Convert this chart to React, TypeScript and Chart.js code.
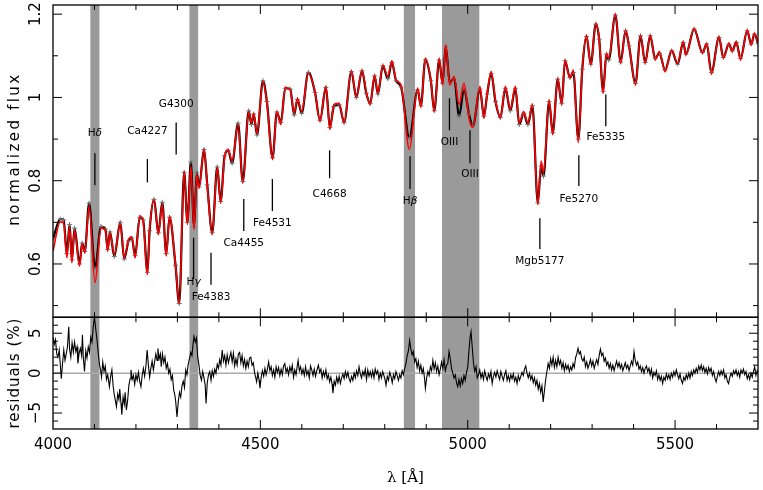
import React, { useEffect, useRef } from 'react';
import { Chart, registerables } from 'chart.js';
Chart.register(...registerables);

// Wavelength nodes (Å) of the spectrum (read at the extrema of the curves)
const lambdaNodes = [
  4000, 4017.5, 4025.6, 4033.5, 4040, 4045.5, 4052, 4064, 4070.2, 4076.7,
  4087, 4101.3, 4115.7, 4126.3, 4131.8, 4137.3, 4147.8, 4162.2, 4171.8, 4182,
  4190, 4198, 4209.2, 4217.3, 4227.6, 4233, 4243.6, 4254, 4263.5, 4273,
  4281, 4295.4, 4304.3, 4316.3, 4324.2, 4332.3, 4340.2, 4346.7, 4352.2, 4364.2,
  4372, 4384, 4396, 4404.2, 4413.8, 4422.4, 4432, 4446.3, 4457.6, 4472,
  4478.4, 4484, 4491.9, 4506.2, 4515.8, 4529.5, 4539.8, 4549.4, 4560, 4572,
  4581.5, 4589.4, 4599.7, 4615.7, 4631.8, 4643.8, 4658.1, 4667.7, 4677.3, 4690,
  4702, 4719.5, 4731.4, 4745.1, 4755.4, 4765, 4775.5, 4783.4, 4795.4, 4807.4,
  4817, 4827.3, 4839.3, 4859.4, 4879.3, 4887.2, 4897.7, 4911.1, 4919.3, 4931.3,
  4939.2, 4947.1, 4956.6, 4967.2, 4979.2, 4991.1, 5003.1, 5012.7, 5029.5, 5039,
  5047, 5056.6, 5066.9, 5078.8, 5090.8, 5102.8, 5114.8, 5124.4, 5134.9, 5145.2,
  5156, 5169.1, 5177, 5182.8, 5196.2, 5205.1, 5217.1, 5226.7, 5234.6, 5246.5,
  5254.7, 5266.7, 5276.3, 5286.5, 5296.8, 5308.8, 5317, 5326.5, 5334.5, 5340,
  5356, 5368.7, 5380.7, 5388.9, 5404.7, 5416.7, 5428, 5440, 5452, 5462.2,
  5475.9, 5491.9, 5506.3, 5519.7, 5526.1, 5546, 5566.1, 5576.4, 5587.7, 5605.9,
  5616.4, 5629.8, 5638, 5647.6, 5657.9, 5674, 5683.5, 5691.4, 5700,
];

// Best-fit model (red)
const modelFlux = [
  0.631, 0.701, 0.699, 0.615, 0.689, 0.603, 0.681, 0.595, 0.647, 0.627,
  0.739, 0.555, 0.686, 0.681, 0.631, 0.675, 0.623, 0.697, 0.615, 0.659,
  0.665, 0.615, 0.715, 0.703, 0.575, 0.683, 0.753, 0.671, 0.744, 0.619,
  0.715, 0.599, 0.505, 0.823, 0.695, 0.835, 0.683, 0.815, 0.783, 0.875,
  0.787, 0.671, 0.831, 0.747, 0.855, 0.875, 0.847, 0.935, 0.795, 0.966,
  0.938, 0.962, 0.914, 1.038, 0.986, 0.851, 0.966, 0.935, 1.024, 1.018,
  0.962, 0.998, 0.966, 1.058, 1.014, 0.943, 1.026, 0.923, 0.983, 0.986,
  0.938, 1.064, 1.002, 1.066, 1.014, 0.983, 1.054, 1.010, 1.078, 1.050,
  1.088, 1.042, 1.030, 0.875, 1.022, 0.978, 1.094, 1.042, 0.966, 1.094,
  1.030, 1.126, 1.030, 1.050, 0.983, 1.034, 0.950, 0.928, 1.026, 0.950,
  1.010, 1.062, 0.994, 0.950, 1.026, 0.971, 1.026, 0.938, 0.966, 0.938,
  0.984, 0.743, 0.847, 0.819, 0.994, 0.911, 1.046, 0.983, 1.090, 1.046,
  1.066, 0.891, 1.070, 1.150, 1.078, 1.178, 1.142, 1.010, 1.106, 1.094,
  1.200, 1.082, 1.162, 1.126, 1.030, 1.150, 1.082, 1.150, 1.090, 1.110,
  1.062, 1.114, 1.082, 1.134, 1.102, 1.166, 1.106, 1.130, 1.056, 1.146,
  1.094, 1.130, 1.110, 1.134, 1.090, 1.162, 1.126, 1.154, 1.130,
];

// Observed spectrum (black, with error bars)
const obsFlux = [
  0.660, 0.708, 0.706, 0.625, 0.695, 0.610, 0.686, 0.600, 0.650, 0.630,
  0.746, 0.590, 0.690, 0.684, 0.635, 0.677, 0.618, 0.700, 0.612, 0.655,
  0.662, 0.620, 0.712, 0.706, 0.580, 0.680, 0.755, 0.675, 0.748, 0.625,
  0.712, 0.597, 0.505, 0.820, 0.700, 0.845, 0.690, 0.820, 0.785, 0.875,
  0.790, 0.675, 0.833, 0.750, 0.860, 0.872, 0.842, 0.938, 0.798, 0.968,
  0.935, 0.960, 0.910, 1.040, 0.990, 0.855, 0.965, 0.940, 1.022, 1.020,
  0.958, 0.995, 0.962, 1.060, 1.012, 0.945, 1.024, 0.928, 0.978, 0.982,
  0.940, 1.062, 1.000, 1.064, 1.010, 0.985, 1.052, 1.008, 1.076, 1.045,
  1.084, 1.040, 1.025, 0.903, 1.018, 0.980, 1.090, 1.040, 0.968, 1.090,
  1.034, 1.122, 1.036, 1.046, 0.955, 1.020, 0.960, 0.932, 1.020, 0.955,
  1.008, 1.058, 0.990, 0.952, 1.022, 0.968, 1.022, 0.935, 0.962, 0.935,
  0.980, 0.747, 0.835, 0.811, 0.990, 0.915, 1.044, 0.985, 1.088, 1.048,
  1.060, 0.900, 1.068, 1.146, 1.080, 1.176, 1.140, 1.015, 1.104, 1.090,
  1.198, 1.085, 1.160, 1.124, 1.034, 1.148, 1.084, 1.148, 1.094, 1.106,
  1.066, 1.112, 1.080, 1.132, 1.104, 1.164, 1.108, 1.128, 1.060, 1.144,
  1.096, 1.128, 1.112, 1.132, 1.094, 1.160, 1.128, 1.152, 1.130,
];

// Residuals (%) : [wavelength, residual]
const residualPoints: [number, number][] = [
  [4000, 4.5], [4003, 3.6], [4006, 4.2], [4009, 2.4], [4012, 2.0], [4015, 2.9], [4018, 0.8], [4020, -0.7],
  [4023, 1.2], [4026, 2.9], [4029, 1.6], [4032, 2.4], [4035, 3.4], [4038, 5.8], [4040, 3.0], [4043, 2.0],
  [4046, 3.8], [4049, 2.6], [4052, 3.9], [4055, 2.7], [4058, 3.3], [4060, 1.2], [4063, 2.5], [4066, 3.1],
  [4069, 2.2], [4071, 4.8], [4073, 2.0], [4076, 0.2], [4079, 2.8], [4082, 1.9], [4085, 3.3], [4088, 2.6],
  [4091, 4.5], [4094, 3.9], [4097, 5.8], [4100, 7.0], [4103, 5.6], [4106, 4.2], [4109, 2.6], [4112, 1.1],
  [4115, 0.3], [4117, -0.5], [4120, 1.4], [4123, 0.2], [4126, 0.9], [4129, -0.8], [4132, -0.2], [4136, -1.7],
  [4139, -0.4], [4142, 0.4], [4145, -1.6], [4148, -2.8], [4151, -3.6], [4153, -4.2], [4156, -2.6], [4159, -3.3],
  [4161, -2.0], [4164, -3.8], [4166, -5.2], [4169, -3.0], [4172, -3.9], [4174, -2.4], [4177, -4.6], [4180, -3.4],
  [4183, -1.5], [4186, -0.7], [4188, 0.4], [4191, -0.8], [4194, -0.3], [4197, -1.4], [4200, -0.2], [4203, -0.9],
  [4206, 0.1], [4209, -1.0], [4212, -1.7], [4215, -0.3], [4218, 0.6], [4221, -0.4], [4224, 0.9], [4227, 2.9],
  [4230, 1.0], [4233, -0.5], [4236, 0.6], [4239, 1.5], [4242, 0.4], [4245, 1.4], [4248, 2.4], [4251, 1.6],
  [4253, 3.1], [4256, 1.8], [4259, 2.4], [4261, 0.8], [4264, 2.4], [4267, 1.3], [4270, 2.0], [4273, 0.6],
  [4276, 1.2], [4279, 0.0], [4282, 0.5], [4285, -0.8], [4288, -0.3], [4291, -2.1], [4294, -2.8], [4296, -3.6],
  [4299, -5.5], [4302, -3.6], [4305, -2.4], [4308, -3.0], [4311, -1.6], [4314, -1.0], [4317, -1.8], [4320, 0.4],
  [4323, -0.2], [4326, 1.1], [4329, 1.8], [4332, 2.6], [4335, 2.2], [4338, 3.8], [4340, 4.6], [4343, 3.9],
  [4346, 4.4], [4349, 2.0], [4352, 1.0], [4355, -0.3], [4358, -0.9], [4361, 0.2], [4364, -0.6], [4367, -1.5],
  [4369, -3.8], [4372, -1.2], [4375, -0.2], [4378, 0.2], [4381, -0.9], [4384, 0.3], [4387, -0.4], [4390, 0.5],
  [4393, 0.0], [4396, 1.1], [4399, 0.6], [4402, 1.7], [4405, 1.0], [4408, 2.9], [4411, 1.5], [4414, 2.2],
  [4417, 1.0], [4420, 2.3], [4423, 1.3], [4426, 2.0], [4429, 2.6], [4432, 1.4], [4435, 2.5], [4438, 0.9],
  [4441, 1.8], [4444, 1.0], [4447, 2.4], [4450, 2.6], [4453, 1.3], [4456, 2.2], [4459, 0.9], [4462, 1.7],
  [4465, 0.6], [4468, 1.5], [4471, 0.8], [4474, 1.9], [4477, 2.0], [4480, 1.0], [4483, 1.3], [4486, 0.1],
  [4489, -0.6], [4491, -1.1], [4494, 0.0], [4497, -0.9], [4499, -1.9], [4502, -0.5], [4505, 0.3], [4508, -0.4],
  [4511, 0.6], [4514, -0.2], [4517, 0.5], [4520, 1.4], [4523, 0.3], [4526, 0.8], [4529, -0.3], [4532, 0.4],
  [4535, -0.5], [4538, 0.8], [4541, 0.1], [4544, 0.7], [4547, -0.3], [4550, 0.5], [4553, -0.2], [4556, 0.9],
  [4559, 1.2], [4562, 0.1], [4565, 0.6], [4568, -0.2], [4571, 0.8], [4574, 0.2], [4577, 1.0], [4580, -0.5],
  [4583, 0.4], [4586, -0.2], [4589, 0.9], [4591, 1.6], [4594, 0.3], [4597, 0.8], [4600, -0.1], [4603, 0.5],
  [4606, -0.3], [4609, 0.8], [4612, -0.2], [4615, 0.3], [4618, -0.6], [4621, 0.9], [4624, 0.4], [4627, -0.3],
  [4630, 0.5], [4633, -0.4], [4636, 0.3], [4640, 1.0], [4643, 0.1], [4646, 0.5], [4649, -0.6], [4652, 0.2],
  [4655, -0.4], [4658, 0.4], [4661, -0.7], [4664, -0.2], [4667, -1.1], [4670, -0.5], [4673, -1.4], [4675, -2.5],
  [4678, -1.0], [4681, -1.5], [4684, -0.5], [4687, -1.2], [4690, -0.4], [4693, -1.3], [4696, -0.6], [4699, -0.1],
  [4702, -0.7], [4705, 0.2], [4708, -0.5], [4711, 0.1], [4714, -0.7], [4717, -1.1], [4720, -0.4], [4723, -0.9],
  [4726, 0.0], [4729, -0.6], [4732, 0.3], [4735, -0.3], [4738, 0.8], [4741, -0.1], [4744, -0.6], [4747, 0.2],
  [4750, -0.3], [4753, 0.5], [4756, -0.8], [4759, 0.4], [4762, -0.4], [4765, 0.2], [4768, -0.5], [4771, 0.3],
  [4774, -0.6], [4777, 0.5], [4780, -0.1], [4783, 0.3], [4786, -0.8], [4789, 0.0], [4792, -0.6], [4795, 0.2],
  [4798, -0.3], [4801, -0.9], [4803, -1.5], [4806, -0.4], [4809, -0.9], [4812, 0.1], [4815, -0.4], [4818, -1.2],
  [4821, -0.2], [4824, -0.7], [4827, 0.2], [4830, -0.3], [4833, -0.9], [4836, -0.2], [4839, -0.6], [4842, 0.3],
  [4845, -0.2], [4848, 0.6], [4851, 1.2], [4854, 2.2], [4857, 2.8], [4860, 4.1], [4863, 3.0], [4866, 2.3],
  [4869, 2.7], [4872, 1.4], [4875, 1.8], [4878, 0.7], [4881, 1.5], [4884, 0.3], [4887, 1.0], [4890, 0.0],
  [4893, 0.6], [4896, -0.7], [4898, -1.9], [4901, -0.6], [4904, 0.2], [4907, -0.3], [4910, 0.8], [4913, 0.3],
  [4916, 1.6], [4919, 0.5], [4922, 1.3], [4925, 0.2], [4928, 0.9], [4931, -0.2], [4934, 0.5], [4937, 1.4],
  [4940, 0.6], [4943, 1.7], [4946, 0.3], [4949, 1.0], [4952, 1.2], [4955, 2.7], [4958, 1.8], [4961, 0.6],
  [4964, 0.0], [4967, -0.6], [4970, -0.2], [4973, -1.2], [4976, -1.7], [4979, -0.8], [4982, -1.6], [4985, -0.7],
  [4988, -1.3], [4991, -0.3], [4994, -0.9], [4997, 0.1], [5000, 0.7], [5003, 2.8], [5006, 4.6], [5008, 5.2],
  [5011, 3.2], [5014, 1.2], [5017, 0.2], [5020, 0.8], [5023, -0.6], [5026, -0.2], [5029, 0.4], [5032, -0.6],
  [5035, 0.0], [5038, -0.8], [5041, 0.3], [5044, -0.4], [5047, -0.9], [5050, -0.1], [5053, -0.6], [5056, 0.2],
  [5059, -1.3], [5062, -0.4], [5065, 0.1], [5068, -0.5], [5071, 0.3], [5074, -0.3], [5077, -0.8], [5080, 0.2],
  [5083, -0.4], [5086, -0.9], [5089, -0.2], [5092, 0.3], [5095, -0.9], [5098, -0.3], [5101, -1.0], [5104, -0.2],
  [5107, -0.7], [5110, -0.1], [5113, -1.0], [5116, -0.5], [5119, -1.3], [5122, -0.3], [5125, -0.9], [5128, -0.4],
  [5131, 0.1], [5134, -0.3], [5137, 0.5], [5140, 0.9], [5143, 0.0], [5146, -0.6], [5149, 0.0], [5152, -0.8],
  [5155, -0.3], [5158, -1.2], [5161, -0.6], [5164, -1.5], [5167, -0.9], [5170, -2.0], [5173, -1.3], [5176, -2.4],
  [5179, -1.6], [5182, -3.6], [5185, -2.2], [5188, -0.8], [5191, 0.2], [5194, 1.2], [5197, 0.6], [5200, 1.8],
  [5203, 1.0], [5206, 2.0], [5209, 0.7], [5212, 1.6], [5215, 0.8], [5218, 2.0], [5221, 1.1], [5224, 1.6],
  [5227, 0.6], [5230, 1.3], [5233, 0.3], [5236, 1.1], [5239, 0.5], [5242, 1.0], [5245, 0.2], [5248, 0.8],
  [5251, 0.4], [5254, 1.2], [5257, 0.7], [5260, 1.9], [5263, 2.4], [5266, 3.1], [5269, 2.4], [5272, 2.7],
  [5275, 1.8], [5278, 1.5], [5281, 2.0], [5284, 0.8], [5287, 1.4], [5290, 0.6], [5293, 1.1], [5296, 1.7],
  [5299, 0.9], [5302, 1.5], [5305, 0.6], [5308, 1.2], [5311, 1.7], [5314, 1.1], [5317, 2.2], [5320, 3.0],
  [5323, 2.2], [5326, 2.5], [5329, 1.5], [5332, 1.9], [5335, 1.0], [5338, 1.4], [5341, 0.6], [5344, 1.2],
  [5347, 0.4], [5350, 1.0], [5353, 0.3], [5356, 0.9], [5359, 1.5], [5362, 0.8], [5365, 1.3], [5368, 0.6],
  [5371, 1.1], [5374, 0.3], [5377, 0.8], [5380, 1.3], [5383, 0.6], [5386, 1.0], [5389, 0.3], [5392, 0.9],
  [5395, 1.5], [5398, 1.0], [5401, 2.7], [5404, 1.6], [5407, 1.0], [5410, 1.4], [5413, 0.5], [5416, 0.9],
  [5419, 0.2], [5422, 0.7], [5425, 0.0], [5428, 0.6], [5431, 0.9], [5434, 0.2], [5437, 0.6], [5440, -0.2],
  [5443, 0.5], [5446, -0.6], [5449, 0.1], [5452, -0.3], [5455, 0.3], [5458, -0.8], [5461, -0.2], [5464, -0.9],
  [5467, -0.4], [5470, -1.3], [5473, -0.5], [5476, -0.9], [5479, -0.1], [5482, -0.7], [5485, -0.2], [5488, -0.8],
  [5491, 0.0], [5494, -0.5], [5497, 0.2], [5500, -0.3], [5503, 0.4], [5506, -0.2], [5509, -0.7], [5512, -0.1],
  [5515, -0.9], [5518, -1.3], [5521, -0.5], [5524, -0.9], [5527, -0.2], [5530, -0.7], [5533, 0.0], [5536, -0.6],
  [5539, 0.2], [5542, -0.3], [5545, 0.4], [5548, 0.0], [5551, 0.6], [5554, 0.1], [5557, 0.9], [5560, 0.4],
  [5563, 1.0], [5566, 0.3], [5569, 0.8], [5572, 0.1], [5575, 0.6], [5578, -0.1], [5581, 0.7], [5584, 0.2],
  [5587, 0.6], [5590, -0.3], [5593, 0.2], [5596, -0.6], [5599, -1.1], [5602, -0.4], [5605, 0.2], [5608, -0.3],
  [5611, 0.3], [5614, -0.2], [5617, 0.4], [5620, -0.6], [5623, -0.2], [5626, -1.0], [5629, -1.3], [5632, -0.5],
  [5635, 0.0], [5638, -0.4], [5641, 0.3], [5644, -0.1], [5647, 0.4], [5650, -0.3], [5653, 0.2], [5656, -0.5],
  [5659, 0.4], [5662, 0.0], [5665, 0.5], [5668, -0.2], [5671, 0.2], [5674, -0.7], [5677, -0.2], [5680, -0.8],
  [5683, 0.0], [5686, -0.5], [5689, 0.2], [5692, 0.8], [5695, -0.3], [5698, 0.3], [5700, 0.0],
];

// Masked regions (Å)
const bandStart = [4090, 4329, 4846, 4938];
const bandEnd = [4112, 4350, 4873, 5028];

// Line index markers
const lineNames = ['Hδ', 'Ca4227', 'G4300', 'Hγ', 'Fe4383', 'Ca4455', 'Fe4531', 'C4668', 'Hβ', 'OIII', 'OIII', 'Mgb5177', 'Fe5270', 'Fe5335'];
const lineLambda = [4101, 4227.6, 4297, 4339, 4381, 4460, 4529, 4667, 4861, 4956, 5005.5, 5174, 5268, 5333];
const lineTop = [0.866, 0.852, 0.940, 0.663, 0.627, 0.756, 0.804, 0.873, 0.859, 0.998, 0.921, 0.710, 0.861, 1.007];
const lineBottom = [0.789, 0.796, 0.863, 0.564, 0.550, 0.679, 0.727, 0.806, 0.780, 0.921, 0.842, 0.636, 0.787, 0.931];
const labelFlux = [0.914, 0.919, 0.983, 0.557, 0.521, 0.649, 0.697, 0.768, 0.751, 0.892, 0.816, 0.607, 0.756, 0.904];

// Axis tick labels
const xTickValues = [4000, 4500, 5000, 5500];
const xTickLabels = ['4000', '4500', '5000', '5500'];
const fluxTickValues = [0.6, 0.8, 1.0, 1.2];
const fluxTickLabels = ['0.6', '0.8', '1', '1.2'];
const resTickValues = [-5, 0, 5];
const resTickLabels = ['−5', '0', '5'];

const SANS = '"DejaVu Sans", sans-serif';

function drawLabel(ctx: CanvasRenderingContext2D, text: string, cx: number, cy: number) {
  const normal = `10.5px ${SANS}`;
  const italic = `italic 10.5px ${SANS}`;
  ctx.textBaseline = 'middle';
  if (text.length === 2 && text[0] === 'H') {
    ctx.font = normal;
    const w1 = ctx.measureText('H').width;
    ctx.font = italic;
    const w2 = ctx.measureText(text[1]).width;
    const x0 = cx - (w1 + w2) / 2;
    ctx.textAlign = 'left';
    ctx.font = normal;
    ctx.fillText('H', x0, cy);
    ctx.font = italic;
    ctx.fillText(text[1], x0 + w1, cy);
  } else {
    ctx.textAlign = 'center';
    ctx.font = normal;
    ctx.fillText(text, cx, cy);
  }
}

const panelPlugin = {
  id: 'panelPlugin',
  beforeDatasetsDraw(chart: any) {
    const { ctx, chartArea: ca, scales } = chart;
    const xs = scales.x;
    const yR = scales.yRes;
    ctx.save();
    ctx.fillStyle = '#9a9a9a';
    for (let i = 0; i < bandStart.length; i++) {
      const x1 = xs.getPixelForValue(bandStart[i]);
      const x2 = xs.getPixelForValue(bandEnd[i]);
      ctx.fillRect(x1, ca.top, x2 - x1, ca.bottom - ca.top);
    }
    ctx.strokeStyle = '#aaaaaa';
    ctx.lineWidth = 1.5;
    const y0 = yR.getPixelForValue(0);
    ctx.beginPath();
    ctx.moveTo(ca.left, y0);
    ctx.lineTo(ca.right, y0);
    ctx.stroke();
    ctx.restore();
  },
  afterDraw(chart: any) {
    const { ctx, chartArea: ca, scales } = chart;
    const xs = scales.x;
    const yF = scales.yFlux;
    const yR = scales.yRes;
    ctx.save();
    ctx.fillStyle = '#000';
    ctx.strokeStyle = '#000';

    // line index markers
    ctx.lineWidth = 1.3;
    for (let i = 0; i < lineNames.length; i++) {
      const px = xs.getPixelForValue(lineLambda[i]);
      ctx.beginPath();
      ctx.moveTo(px, yF.getPixelForValue(lineTop[i]));
      ctx.lineTo(px, yF.getPixelForValue(lineBottom[i]));
      ctx.stroke();
      drawLabel(ctx, lineNames[i], px, yF.getPixelForValue(labelFlux[i]));
    }

    // frames + ticks
    const panels = [
      { ax: yF, minor: [0.5, 0.6, 0.7, 0.8, 0.9, 1.0, 1.1, 1.2], major: fluxTickValues },
      { ax: yR, minor: [-6, -5, -4, -3, -2, -1, 0, 1, 2, 3, 4, 5, 6], major: resTickValues },
    ];
    for (const p of panels) {
      const top = p.ax.top;
      const bot = p.ax.bottom;
      ctx.lineWidth = 1;
      for (let v = 4100; v < 5700; v += 100) {
        const px = xs.getPixelForValue(v);
        const len = v % 500 === 0 ? 9 : 5;
        ctx.beginPath();
        ctx.moveTo(px, top);
        ctx.lineTo(px, top + len);
        ctx.moveTo(px, bot);
        ctx.lineTo(px, bot - len);
        ctx.stroke();
      }
      for (const v of p.minor) {
        const py = p.ax.getPixelForValue(v);
        const isMajor = p.major.some((m: number) => Math.abs(m - v) < 1e-6);
        const len = isMajor ? 9 : 5;
        ctx.beginPath();
        ctx.moveTo(ca.left, py);
        ctx.lineTo(ca.left + len, py);
        ctx.moveTo(ca.right, py);
        ctx.lineTo(ca.right - len, py);
        ctx.stroke();
      }
      ctx.lineWidth = 1.3;
      ctx.strokeRect(ca.left, top, ca.right - ca.left, bot - top);
    }

    // x tick labels
    ctx.font = `15px ${SANS}`;
    ctx.textAlign = 'center';
    ctx.textBaseline = 'middle';
    for (let i = 0; i < xTickValues.length; i++) {
      ctx.fillText(xTickLabels[i], xs.getPixelForValue(xTickValues[i]), ca.bottom + 16);
    }
    // y tick labels (rotated)
    const drawRot = (text: string, x: number, y: number) => {
      ctx.save();
      ctx.translate(x, y);
      ctx.rotate(-Math.PI / 2);
      ctx.fillText(text, 0, 0);
      ctx.restore();
    };
    for (let i = 0; i < fluxTickValues.length; i++) {
      drawRot(fluxTickLabels[i], 36, yF.getPixelForValue(fluxTickValues[i]));
    }
    for (let i = 0; i < resTickValues.length; i++) {
      drawRot(resTickLabels[i], 36, yR.getPixelForValue(resTickValues[i]));
    }

    // axis titles
    (ctx as any).letterSpacing = '2.5px';
    drawRot('normalized flux', 15, yF.top + 144);
    (ctx as any).letterSpacing = '1px';
    drawRot('residuals (%)', 15, (yR.top + yR.bottom) / 2);
    (ctx as any).letterSpacing = '0px';
    ctx.font = '15px "DejaVu Serif", serif';
    ctx.fillText('λ [Å]', (ca.left + ca.right) / 2, ca.bottom + 49);
    ctx.restore();
  },
};

export default function App() {
  const ref = useRef<HTMLCanvasElement>(null);
  useEffect(() => {
    document.body.style.margin = '0';
    const modelData = lambdaNodes.map((l, i) => ({ x: l, y: modelFlux[i] }));
    const obsData = lambdaNodes.map((l, i) => ({ x: l, y: obsFlux[i] }));
    const resData = residualPoints.map(([l, r]) => ({ x: l, y: r }));
    const chart = new Chart(ref.current as HTMLCanvasElement, {
      type: 'line',
      data: {
        datasets: [
          {
            label: 'model',
            data: modelData,
            yAxisID: 'yFlux',
            borderColor: '#ff0000',
            borderWidth: 1.6,
            pointRadius: 0,
            cubicInterpolationMode: 'monotone',
            order: 0,
          },
          {
            label: 'observed',
            data: obsData,
            yAxisID: 'yFlux',
            borderColor: '#000000',
            borderWidth: 2.2,
            pointStyle: 'cross',
            pointRadius: 2.5,
            pointBorderColor: '#777777',
            pointBorderWidth: 1,
            cubicInterpolationMode: 'monotone',
            order: 1,
          },
          {
            label: 'residuals',
            data: resData,
            yAxisID: 'yRes',
            borderColor: '#000000',
            borderWidth: 1.1,
            pointRadius: 0,
            tension: 0,
            order: 2,
          },
        ],
      } as any,
      options: {
        animation: false,
        responsive: false,
        devicePixelRatio: 1,
        layout: { padding: { top: 4, right: 1, left: 0, bottom: 0 } },
        plugins: { legend: { display: false }, tooltip: { enabled: false } },
        scales: {
          x: {
            type: 'linear',
            min: 4000,
            max: 5700,
            position: 'bottom',
            ticks: { display: false },
            grid: { display: false },
            border: { display: false },
            afterFit: (s: any) => { s.height = 61; },
          },
          yRes: {
            type: 'linear',
            min: -7,
            max: 7,
            position: 'left',
            stack: 'panels',
            stackWeight: 112,
            ticks: { display: false },
            grid: { display: false },
            border: { display: false },
            afterFit: (s: any) => { s.width = 53; },
          },
          yFlux: {
            type: 'linear',
            min: 0.472,
            max: 1.222,
            position: 'left',
            stack: 'panels',
            stackWeight: 313,
            ticks: { display: false },
            grid: { display: false },
            border: { display: false },
            afterFit: (s: any) => { s.width = 53; },
          },
        } as any,
      },
      plugins: [panelPlugin],
    });
    return () => chart.destroy();
  }, []);
  return (
    <div style={{ width: 763, height: 490, position: 'relative' }}>
      <canvas ref={ref} width={763} height={490} style={{ display: 'block' }} />
    </div>
  );
}
